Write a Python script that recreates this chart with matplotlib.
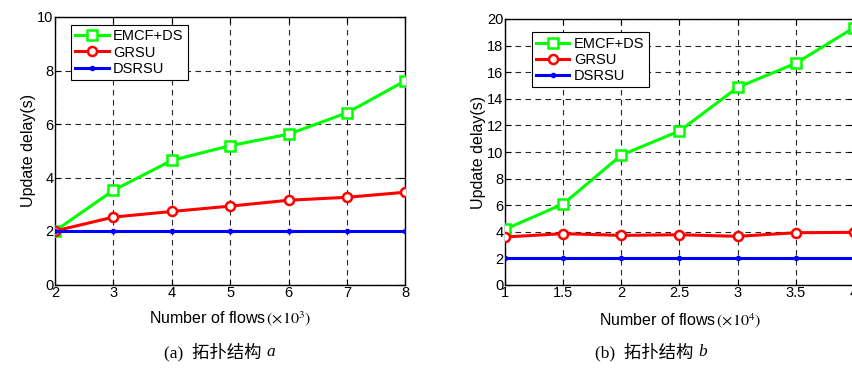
import matplotlib
matplotlib.use("Agg")
import matplotlib.pyplot as plt

# topology a
flows_a = [2, 3, 4, 5, 6, 7, 8]
emcf_a = [2.0, 3.52, 4.64, 5.19, 5.62, 6.42, 7.62]
grsu_a = [2.0, 2.52, 2.73, 2.93, 3.15, 3.26, 3.45]
dsrsu_a = [2, 2, 2, 2, 2, 2, 2]

# topology b
flows_b = [1, 1.5, 2, 2.5, 3, 3.5, 4]
emcf_b = [4.19, 6.09, 9.77, 11.58, 14.86, 16.67, 19.35]
grsu_b = [3.61, 3.86, 3.73, 3.78, 3.66, 3.93, 3.96]
dsrsu_b = [2, 2, 2, 2, 2, 2, 2]

xticks_b = [1, 1.5, 2, 2.5, 3, 3.5, 4]
xticklabels_b = ["1", "1.5", "2", "2.5", "3", "3.5", "4"]

plt.rcParams['font.family'] = ['Liberation Sans', 'DejaVu Sans']
plt.rcParams['xtick.direction'] = 'in'
plt.rcParams['ytick.direction'] = 'in'
plt.rcParams['mathtext.fontset'] = 'stix'

W, H = 853, 374
fig = plt.figure(figsize=(W / 100, H / 100), dpi=100)
fig.patch.set_facecolor('white')

ax1 = fig.add_axes([55 / W, (H - 284.5) / H, 350.5 / W, 267.5 / H])
ax2 = fig.add_axes([505 / W, (H - 285) / H, 349 / W, 266 / H])


def draw(ax, x, e, g, d, ymax, anchor):
    ax.plot(x, e, color='#00ff00', lw=2.2, marker='s', ms=6.5, mfc='white',
            mec='#00ff00', mew=1.8, label='EMCF+DS', zorder=4)
    ax.plot(x, g, color='#ff0000', lw=2.2, marker='o', ms=6.5, mfc='white',
            mec='#ff0000', mew=1.8, label='GRSU', zorder=4)
    ax.plot(x, d, color='#0000ff', lw=2.2, marker='.', ms=6,
            label='DSRSU', zorder=4)
    ax.set_ylim(0, ymax)
    ax.set_yticks(range(0, ymax + 1, 2))
    ax.grid(True, color='black', ls=(0, (5, 4)), lw=0.8, alpha=0.85)
    ax.tick_params(top=True, right=True, labelsize=10.5, length=4, width=0.8, pad=1)
    for s in ax.spines.values():
        s.set_linewidth(1.0)
    ax.set_ylabel('Update delay(s)', fontsize=11.5, labelpad=1)
    leg = ax.legend(loc='upper left', bbox_to_anchor=anchor, fontsize=10.5,
                    fancybox=False, framealpha=1, edgecolor='black',
                    handlelength=2.3, handletextpad=0.3, borderpad=0.3,
                    labelspacing=0.15, borderaxespad=0)
    leg.get_frame().set_linewidth(0.8)


draw(ax1, flows_a, emcf_a, grsu_a, dsrsu_a, 10, (0.045, 0.97))
ax1.set_xlim(2, 8)
ax1.set_xticks(flows_a)

draw(ax2, flows_b, emcf_b, grsu_b, dsrsu_b, 20, (0.076, 0.95))
ax2.set_xlim(1, 4)
ax2.set_xticks(xticks_b)
ax2.set_xticklabels(xticklabels_b)

# x labels
fig.text(230 / W, 1 - 319 / H, r'Number of flows$\,(\times 10^3)$', ha='center',
         va='center', fontsize=11.5)
fig.text(680 / W, 1 - 321 / H, r'Number of flows$\,(\times 10^4)$', ha='center',
         va='center', fontsize=11.5)

# captions
cap_fam = ['Liberation Serif', 'Noto Sans CJK SC']
fig.text(266 / W, 1 - 352 / H, '(a)  拓扑结构 ', ha='right', va='center',
         fontsize=12.5, family=cap_fam)
fig.text(266 / W, 1 - 352 / H, 'a', ha='left', va='center', fontsize=12.5,
         family='Liberation Serif', style='italic')
fig.text(698 / W, 1 - 352 / H, '(b)  拓扑结构 ', ha='right', va='center',
         fontsize=12.5, family=cap_fam)
fig.text(698 / W, 1 - 352 / H, 'b', ha='left', va='center', fontsize=12.5,
         family='Liberation Serif', style='italic')

fig.savefig('out.png', dpi=100)
